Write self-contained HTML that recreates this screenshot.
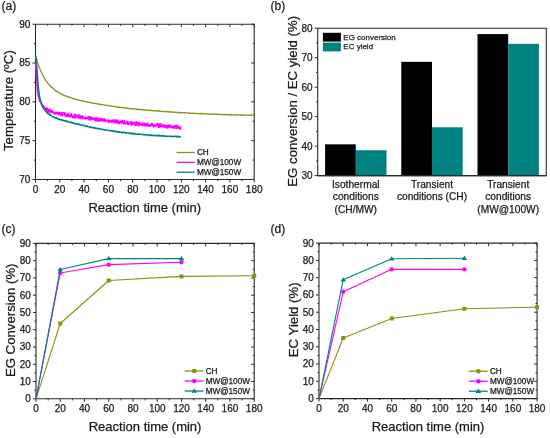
<!DOCTYPE html>
<html><head><meta charset="utf-8"><style>html,body{margin:0;padding:0;background:#fff;font-family:"Liberation Sans",sans-serif;}svg{display:block;will-change:transform;}text{stroke:#1a1a1a;stroke-width:0.25px;}</style></head>
<body><svg width="550" height="438" viewBox="0 0 550 438" font-family="&quot;Liberation Sans&quot;, sans-serif" stroke-linejoin="round">
<rect width="550" height="438" fill="#fff"/>
<rect x="35.5" y="24.2" width="218.7" height="155.3" fill="none" stroke="#2a2a2a" stroke-width="1.1"/>
<path d="M35.5 179.5v3M35.5 24.2v3M59.8 179.5v3M59.8 24.2v3M84.1 179.5v3M84.1 24.2v3M108.4 179.5v3M108.4 24.2v3M132.7 179.5v3M132.7 24.2v3M157 179.5v3M157 24.2v3M181.3 179.5v3M181.3 24.2v3M205.6 179.5v3M205.6 24.2v3M229.9 179.5v3M229.9 24.2v3M254.2 179.5v3M254.2 24.2v3M47.65 179.5v1.6M47.65 24.2v1.6M71.95 179.5v1.6M71.95 24.2v1.6M96.25 179.5v1.6M96.25 24.2v1.6M120.55 179.5v1.6M120.55 24.2v1.6M144.85 179.5v1.6M144.85 24.2v1.6M169.15 179.5v1.6M169.15 24.2v1.6M193.45 179.5v1.6M193.45 24.2v1.6M217.75 179.5v1.6M217.75 24.2v1.6M242.05 179.5v1.6M242.05 24.2v1.6M35.5 179.5h-3M254.2 179.5h-3M35.5 140.68h-3M254.2 140.68h-3M35.5 101.85h-3M254.2 101.85h-3M35.5 63.03h-3M254.2 63.03h-3M35.5 24.2h-3M254.2 24.2h-3M35.5 160.09h-1.6M254.2 160.09h-1.6M35.5 121.26h-1.6M254.2 121.26h-1.6M35.5 82.44h-1.6M254.2 82.44h-1.6M35.5 43.61h-1.6M254.2 43.61h-1.6" stroke="#2a2a2a" stroke-width="1" fill="none"/>
<text x="35.5" y="193" text-anchor="middle" font-size="10" fill="#1a1a1a">0</text>
<text x="59.8" y="193" text-anchor="middle" font-size="10" fill="#1a1a1a">20</text>
<text x="84.1" y="193" text-anchor="middle" font-size="10" fill="#1a1a1a">40</text>
<text x="108.4" y="193" text-anchor="middle" font-size="10" fill="#1a1a1a">60</text>
<text x="132.7" y="193" text-anchor="middle" font-size="10" fill="#1a1a1a">80</text>
<text x="157" y="193" text-anchor="middle" font-size="10" fill="#1a1a1a">100</text>
<text x="181.3" y="193" text-anchor="middle" font-size="10" fill="#1a1a1a">120</text>
<text x="205.6" y="193" text-anchor="middle" font-size="10" fill="#1a1a1a">140</text>
<text x="229.9" y="193" text-anchor="middle" font-size="10" fill="#1a1a1a">160</text>
<text x="254.2" y="193" text-anchor="middle" font-size="10" fill="#1a1a1a">180</text>
<text x="30.4" y="182.9" text-anchor="end" font-size="10" fill="#1a1a1a">70</text>
<text x="30.4" y="144.08" text-anchor="end" font-size="10" fill="#1a1a1a">75</text>
<text x="30.4" y="105.25" text-anchor="end" font-size="10" fill="#1a1a1a">80</text>
<text x="30.4" y="66.43" text-anchor="end" font-size="10" fill="#1a1a1a">85</text>
<text x="30.4" y="27.6" text-anchor="end" font-size="10" fill="#1a1a1a">90</text>
<text x="1.5" y="10.0" font-size="12" fill="#1a1a1a">(a)</text>
<text x="144.85" y="211.8" text-anchor="middle" font-size="13" fill="#1a1a1a">Reaction time (min)</text>
<text transform="translate(13.4 100.6) rotate(-90)" text-anchor="middle" font-size="13.2" fill="#1a1a1a">Temperature (<tspan font-size="8.5" dy="-4.6">o</tspan><tspan dy="4.6">C)</tspan></text>
<polyline points="35.5,55.82 35.89,57.04 36.28,58.36 36.67,59.39 37.06,60.9 37.45,62.12 37.84,63.35 38.23,64.41 38.62,65.61 39.01,66.61 39.41,67.51 39.8,68.84 40.19,69.8 40.58,70.85 40.97,71.5 41.36,72.3 41.75,73.12 42.14,73.77 42.53,74.94 42.92,75.38 43.31,76.1 43.7,76.95 44.09,77.89 44.48,78.36 44.87,78.81 45.26,79.48 45.65,80.28 46.04,80.74 46.43,81.21 46.83,81.84 47.22,82.51 47.61,83.21 48,83.22 48.39,83.79 48.78,84.23 49.17,84.44 49.56,85.1 49.95,85.51 50.34,86.24 50.73,86.46 51.12,86.62 51.51,87.34 51.9,87.55 52.29,87.7 52.68,88.22 53.07,88.56 53.46,88.84 53.85,89.29 54.24,89.26 54.64,89.86 55.03,90.35 55.42,90.61 55.81,90.92 56.2,91.2 56.59,91.52 56.98,91.38 57.37,91.93 57.76,91.77 58.15,92.19 58.54,92.23 58.93,92.9 59.32,93.17 59.71,93.16 60.1,93.66 60.49,93.5 60.88,93.83 61.27,94.03 61.66,94.04 62.06,94.46 62.45,94.87 62.84,94.6 63.23,95.07 63.62,95.09 64.01,95.55 64.4,95.52 64.79,95.72 65.18,95.87 65.57,95.97 65.96,95.88 66.35,96.45 66.74,96.19 67.13,96.58 67.52,96.78 67.91,96.71 68.3,96.99 68.69,97.29 69.08,97.24 69.48,97.25 69.87,97.07 70.26,97.49 70.65,97.68 71.04,97.82 71.43,97.87 71.82,98.2 72.21,98.17 72.6,98.36 72.99,98.6 73.38,98.48 73.77,98.68 74.16,99.16 74.55,99.08 74.94,98.86 75.33,99.15 75.72,99.36 76.11,99.56 76.5,99.51 76.89,99.51 77.29,99.58 77.68,99.89 78.07,99.94 78.46,99.91 78.85,100.06 79.24,100.12 79.63,100.39 80.02,100.27 80.41,100.54 80.8,100.69 81.19,100.73 81.58,100.62 81.97,101.04 82.36,100.82 82.75,101.08 83.14,100.99 83.53,100.93 83.92,101.31 84.31,101.4 84.71,101.43 85.1,101.57 85.49,101.51 85.88,101.58 86.27,101.75 86.66,102.14 87.05,102.06 87.44,101.94 87.83,102.18 88.22,102.11 88.61,102.19 89,102.46 89.39,102.33 89.78,102.24 90.17,102.43 90.56,102.65 90.95,102.73 91.34,102.98 91.73,102.76 92.13,103.05 92.52,103.07 92.91,103.06 93.3,103.28 93.69,103.3 94.08,103.17 94.47,103.53 94.86,103.26 95.25,103.52 95.64,103.58 96.03,103.71 96.42,103.61 96.81,103.78 97.2,103.83 97.59,104.07 97.98,103.87 98.37,104.06 98.76,104.08 99.15,103.99 99.55,104.65 99.94,104.31 100.33,104.16 100.72,104.66 101.11,104.35 101.5,104.63 101.89,104.77 102.28,104.6 102.67,104.7 103.06,104.74 103.45,104.87 103.84,104.7 104.23,104.82 104.62,105.05 105.01,105.29 105.4,105.29 105.79,105.51 106.18,105.41 106.57,105.29 106.96,105.41 107.36,105.18 107.75,105.4 108.14,105.45 108.53,105.7 108.92,105.82 109.31,105.69 109.7,105.75 110.09,105.66 110.48,105.93 110.87,106.04 111.26,106.13 111.65,106 112.04,106.47 112.43,106.4 112.82,106.26 113.21,106.25 113.6,106.34 113.99,106.46 114.38,106.49 114.78,106.62 115.17,106.72 115.56,106.86 115.95,106.88 116.34,106.74 116.73,106.87 117.12,106.8 117.51,106.83 117.9,107.25 118.29,106.95 118.68,107.37 119.07,107.06 119.46,107.21 119.85,107.38 120.24,107.27 120.63,107.38 121.02,107.33 121.41,107.34 121.8,107.44 122.2,107.41 122.59,107.8 122.98,107.58 123.37,107.91 123.76,107.3 124.15,107.75 124.54,107.88 124.93,107.8 125.32,108.06 125.71,108.03 126.1,107.94 126.49,108.1 126.88,108.5 127.27,108.16 127.66,108.21 128.05,108.15 128.44,108.28 128.83,108.11 129.22,108.32 129.62,108.76 130.01,108.59 130.4,108.57 130.79,108.69 131.18,108.85 131.57,108.7 131.96,108.96 132.35,108.85 132.74,108.76 133.13,109.04 133.52,108.47 133.91,108.78 134.3,108.94 134.69,108.81 135.08,108.96 135.47,108.93 135.86,108.97 136.25,109.52 136.64,109.24 137.03,109.18 137.43,109.43 137.82,109.23 138.21,109.44 138.6,109.4 138.99,109.63 139.38,109.22 139.77,109.58 140.16,109.52 140.55,109.37 140.94,109.74 141.33,109.49 141.72,109.9 142.11,109.77 142.5,109.84 142.89,109.78 143.28,109.95 143.67,109.57 144.06,109.89 144.45,109.83 144.85,110 145.24,109.99 145.63,110.12 146.02,109.94 146.41,110.38 146.8,110.48 147.19,110.14 147.58,110.21 147.97,110.29 148.36,110.47 148.75,110.6 149.14,110.17 149.53,110.29 149.92,110.26 150.31,110.28 150.7,110.24 151.09,110.57 151.48,110.38 151.87,110.81 152.27,110.75 152.66,110.5 153.05,110.53 153.44,110.63 153.83,110.96 154.22,110.65 154.61,110.59 155,110.84 155.39,110.93 155.78,110.81 156.17,111.18 156.56,111.01 156.95,111.07 157.34,110.91 157.73,111.06 158.12,111.07 158.51,110.79 158.9,111.2 159.29,110.92 159.68,111.22 160.08,111.03 160.47,111.58 160.86,111.36 161.25,111.47 161.64,111.51 162.03,111.2 162.42,111.09 162.81,111.41 163.2,111.62 163.59,111.53 163.98,111.66 164.37,111.71 164.76,111.38 165.15,111.67 165.54,111.95 165.93,111.6 166.32,111.41 166.71,111.7 167.1,111.7 167.5,111.86 167.89,111.69 168.28,111.86 168.67,111.54 169.06,112.03 169.45,112.17 169.84,112.15 170.23,111.75 170.62,112.06 171.01,111.59 171.4,112.1 171.79,112.08 172.18,111.96 172.57,112.19 172.96,112.18 173.35,112.33 173.74,112.23 174.13,112.27 174.52,111.97 174.92,112.11 175.31,112.24 175.7,112.38 176.09,112.36 176.48,112.61 176.87,112.28 177.26,112.4 177.65,112.5 178.04,112.45 178.43,112.58 178.82,112.44 179.21,112.77 179.6,112.53 179.99,112.77 180.38,112.62 180.77,112.87 181.16,112.46 181.55,112.77 181.94,112.65 182.34,112.77 182.73,112.94 183.12,112.61 183.51,112.6 183.9,112.67 184.29,112.88 184.68,112.58 185.07,112.9 185.46,112.72 185.85,112.76 186.24,112.9 186.63,113.03 187.02,112.9 187.41,112.94 187.8,113.03 188.19,113.02 188.58,112.68 188.97,113.04 189.36,113.13 189.75,113.31 190.15,113.47 190.54,113.28 190.93,113.21 191.32,113.08 191.71,113.25 192.1,113.38 192.49,113.47 192.88,113.17 193.27,113.35 193.66,113.46 194.05,113.64 194.44,113.41 194.83,113.31 195.22,113.31 195.61,113.38 196,113.35 196.39,113.59 196.78,113.65 197.17,113.62 197.57,113.7 197.96,113.47 198.35,113.62 198.74,113.52 199.13,113.6 199.52,113.8 199.91,113.63 200.3,113.37 200.69,113.63 201.08,113.58 201.47,113.47 201.86,113.6 202.25,113.88 202.64,114 203.03,113.7 203.42,113.94 203.81,113.98 204.2,113.65 204.59,113.83 204.99,113.85 205.38,113.89 205.77,113.65 206.16,113.85 206.55,114.08 206.94,114.12 207.33,114.22 207.72,113.91 208.11,114.26 208.5,114.1 208.89,113.81 209.28,114.14 209.67,113.99 210.06,114.13 210.45,114.06 210.84,114.27 211.23,114.14 211.62,114.07 212.01,114.28 212.41,114.18 212.8,114.1 213.19,114.37 213.58,114.13 213.97,114.11 214.36,114.14 214.75,114.01 215.14,114.16 215.53,114.54 215.92,114.14 216.31,114.29 216.7,114.14 217.09,114.22 217.48,114.56 217.87,114.48 218.26,114.27 218.65,114.37 219.04,114.26 219.43,114.28 219.82,114.27 220.22,114.29 220.61,114.49 221,114.54 221.39,114.54 221.78,114.45 222.17,114.28 222.56,114.49 222.95,114.37 223.34,114.66 223.73,114.62 224.12,114.66 224.51,114.51 224.9,114.3 225.29,114.73 225.68,114.78 226.07,114.39 226.46,114.64 226.85,114.81 227.24,114.48 227.64,114.92 228.03,114.62 228.42,114.52 228.81,114.9 229.2,114.75 229.59,114.62 229.98,114.86 230.37,114.44 230.76,115.02 231.15,114.64 231.54,114.81 231.93,114.72 232.32,114.86 232.71,114.94 233.1,114.69 233.49,114.94 233.88,114.79 234.27,114.74 234.66,114.82 235.06,114.71 235.45,114.76 235.84,115.03 236.23,114.87 236.62,115.08 237.01,114.98 237.4,114.77 237.79,114.65 238.18,114.84 238.57,115 238.96,114.97 239.35,114.85 239.74,115.14 240.13,114.73 240.52,114.81 240.91,115.03 241.3,115.35 241.69,115.09 242.08,114.89 242.47,115.14 242.87,115.16 243.26,115.21 243.65,115.02 244.04,114.97 244.43,115.11 244.82,115.17 245.21,115.35 245.6,115.43 245.99,115.02 246.38,115.06 246.77,115.14 247.16,115.12 247.55,115.24 247.94,115.24 248.33,115.22 248.72,115.39 249.11,115.17 249.5,115.05 249.89,114.98 250.29,115.07 250.68,115.07 251.07,114.95 251.46,115.34 251.85,115.28 252.24,115.2 252.63,115.13 253.02,115.04 253.41,115.14 253.8,115.57" fill="none" stroke="#8e8e12" stroke-width="1.25"/>
<polyline points="35.6,62 35.93,66.88 36.26,71.65 36.59,76.31 36.92,81.28 37.25,86.13 37.58,89.89 37.92,92.65 38.25,94.92 38.58,96.03 38.91,97.41 39.24,98.85 39.57,100.2 39.9,101.28 40.23,101.78 40.56,101.72 40.89,102.06 41.22,103.61 41.55,104.37 41.88,103.77 42.22,105.27 42.55,106.02 42.88,107.18 43.21,105.54 43.54,107.43 43.87,106.01 44.2,107.03 44.53,107.65 44.86,109.49 45.19,109.92 45.52,108.72 45.85,109.19 46.18,109.93 46.51,107.78 46.85,110.12 47.18,108.31 47.51,111.37 47.84,111.36 48.17,110.58 48.5,109.43 48.83,112.05 49.16,110.79 49.49,110.78 49.82,111.38 50.15,109.23 50.48,111.48 50.81,112.16 51.15,111.62 51.48,111.54 51.81,110.55 52.14,112.25 52.47,111.91 52.8,111.82 53.13,111.34 53.46,112.86 53.79,113.34 54.12,112.57 54.45,113.17 54.78,113.68 55.11,114.03 55.45,112.75 55.78,112.4 56.11,112.27 56.44,112.78 56.77,113.4 57.1,113.87 57.43,112.58 57.76,113.23 58.09,112.17 58.42,114.5 58.75,112.92 59.08,113.75 59.41,112.74 59.74,113.24 60.08,112.92 60.41,115.38 60.74,114.11 61.07,113.66 61.4,112.94 61.73,113.35 62.06,114.6 62.39,115.76 62.72,112.73 63.05,113.31 63.38,114.12 63.71,113.73 64.04,112.76 64.38,114.5 64.71,115.3 65.04,113.03 65.37,114.88 65.7,115.69 66.03,115.77 66.36,114.42 66.69,116.6 67.02,115.51 67.35,114.2 67.68,116.05 68.01,114 68.34,116.07 68.68,113.97 69.01,116.07 69.34,114.75 69.67,116.52 70,116.18 70.33,115.94 70.66,115.6 70.99,116.68 71.32,113.95 71.65,116.13 71.98,116.16 72.31,116.36 72.64,116.68 72.97,117.6 73.31,116.07 73.64,116.81 73.97,116.21 74.3,117.68 74.63,114.46 74.96,117.91 75.29,115.58 75.62,114.61 75.95,115.29 76.28,116.24 76.61,116.66 76.94,116.47 77.27,117.38 77.61,116.58 77.94,116.6 78.27,115.02 78.6,117.26 78.93,117.83 79.26,116.45 79.59,115.22 79.92,115.63 80.25,118.69 80.58,116.46 80.91,116.45 81.24,116.35 81.57,117.9 81.91,116.68 82.24,116.45 82.57,115.86 82.9,117.31 83.23,118.46 83.56,117.36 83.89,118.44 84.22,117.78 84.55,117.81 84.88,117.89 85.21,117.79 85.54,118.83 85.87,118.34 86.21,117.32 86.54,118.08 86.87,117.92 87.2,118.53 87.53,118.27 87.86,118.55 88.19,116.71 88.52,118.61 88.85,119.59 89.18,116.98 89.51,119.97 89.84,118.72 90.17,118.26 90.5,116.81 90.84,119.65 91.17,117.64 91.5,118.14 91.83,119.24 92.16,117.72 92.49,117.8 92.82,117.68 93.15,118.77 93.48,119.52 93.81,119.37 94.14,119.42 94.47,118.72 94.8,119.25 95.14,118.46 95.47,120.9 95.8,119.43 96.13,117.58 96.46,118.26 96.79,120.97 97.12,118.05 97.45,119.02 97.78,119.91 98.11,118.45 98.44,120.66 98.77,121.32 99.1,118.86 99.44,120.85 99.77,118.88 100.1,118.81 100.43,120.1 100.76,120.14 101.09,119.35 101.42,120.83 101.75,118.56 102.08,119.22 102.41,119.04 102.74,120.92 103.07,121.01 103.4,120.91 103.73,118.99 104.07,120.46 104.4,120.83 104.73,118.8 105.06,119.63 105.39,121.14 105.72,121.24 106.05,120.84 106.38,121.17 106.71,120.99 107.04,120.86 107.37,120.64 107.7,119.92 108.03,120.58 108.37,120.47 108.7,122.61 109.03,121.21 109.36,120.98 109.69,120.8 110.02,120.96 110.35,120.84 110.68,121.7 111.01,121.16 111.34,122.04 111.67,120.57 112,121.66 112.33,122.22 112.67,120.23 113,121.59 113.33,121.71 113.66,121.16 113.99,121.05 114.32,119.87 114.65,122.76 114.98,120.72 115.31,120.44 115.64,122.38 115.97,120.06 116.3,122.76 116.63,122.26 116.96,122.46 117.3,121.74 117.63,120.72 117.96,120.27 118.29,123.46 118.62,121.57 118.95,121.56 119.28,123.69 119.61,121.51 119.94,121.94 120.27,121.97 120.6,122.1 120.93,121.23 121.26,121.75 121.6,123.63 121.93,123.13 122.26,120.71 122.59,120.74 122.92,122.8 123.25,122.39 123.58,122.16 123.91,123.61 124.24,120.9 124.57,123.83 124.9,122.79 125.23,123.24 125.56,122.98 125.9,123.6 126.23,122.53 126.56,122.27 126.89,123.63 127.22,123.05 127.55,121.65 127.88,124.29 128.21,124.18 128.54,124.44 128.87,123.11 129.2,123.41 129.53,122.71 129.86,122.14 130.19,123.21 130.53,123.35 130.86,122.54 131.19,124.94 131.52,121.65 131.85,122.48 132.18,122.65 132.51,124.64 132.84,123.12 133.17,123.09 133.5,122.55 133.83,122.7 134.16,122.19 134.49,124.54 134.83,124.16 135.16,124.57 135.49,122.95 135.82,125.34 136.15,122.69 136.48,122 136.81,123.43 137.14,123.89 137.47,124.54 137.8,122.79 138.13,124.43 138.46,125.57 138.79,123.04 139.13,123.18 139.46,122.25 139.79,124.22 140.12,124.87 140.45,124.81 140.78,124.9 141.11,125.51 141.44,124.25 141.77,125.1 142.1,123.23 142.43,123.41 142.76,124.47 143.09,123.44 143.43,124.86 143.76,125.69 144.09,124.74 144.42,123.63 144.75,123.64 145.08,125.78 145.41,123.65 145.74,124.56 146.07,124.24 146.4,124.57 146.73,125.64 147.06,124.03 147.39,123.19 147.72,126.08 148.06,124.87 148.39,125.4 148.72,124.68 149.05,125.51 149.38,126.02 149.71,126.14 150.04,124.53 150.37,124.48 150.7,125.25 151.03,125.09 151.36,125.47 151.69,124.22 152.02,123.26 152.36,125.43 152.69,125.79 153.02,125.68 153.35,126.72 153.68,125.94 154.01,124.72 154.34,126.12 154.67,125.08 155,126.45 155.33,125.45 155.66,125.7 155.99,125.5 156.32,125.35 156.66,123.83 156.99,125.41 157.32,123.68 157.65,125.9 157.98,126.42 158.31,127.16 158.64,125.86 158.97,124.8 159.3,123.95 159.63,127.27 159.96,124.17 160.29,126.52 160.62,123.95 160.95,125.63 161.29,126.39 161.62,126.06 161.95,125.73 162.28,124.97 162.61,124.92 162.94,126.86 163.27,126.32 163.6,125.75 163.93,126.15 164.26,125.04 164.59,127.02 164.92,127.29 165.25,125.28 165.59,126.19 165.92,127.16 166.25,125.5 166.58,127.87 166.91,127.71 167.24,125.95 167.57,127.24 167.9,127.95 168.23,125.08 168.56,126.97 168.89,126.24 169.22,126.2 169.55,127.15 169.89,126 170.22,125.1 170.55,125.11 170.88,126.54 171.21,127.22 171.54,126.6 171.87,126.5 172.2,126.65 172.53,128 172.86,127.28 173.19,126.03 173.52,126.52 173.85,128.04 174.18,126.29 174.52,126.51 174.85,126.91 175.18,125.9 175.51,127.9 175.84,125.32 176.17,128.51 176.5,126.65 176.83,125.86 177.16,127.43 177.49,125.48 177.82,127.75 178.15,128.02 178.48,126.7 178.82,126.92 179.15,128.29 179.48,126.7 179.81,127.43 180.14,127.78 180.47,129.03 180.8,127" fill="none" stroke="#ff00ff" stroke-width="1.7"/>
<polyline points="35.6,55.01 35.93,57.81 36.26,60.12 36.59,64.02 36.92,67.45 37.25,71.46 37.58,77.06 37.92,82.27 38.25,86.75 38.58,89.45 38.91,92.28 39.24,94.4 39.57,96.34 39.9,98.06 40.23,99.45 40.56,100.97 40.89,101.78 41.22,102.96 41.55,103.82 41.88,104.8 42.22,105.34 42.55,106.58 42.88,106.95 43.21,107.69 43.54,108.2 43.87,108.95 44.2,109.35 44.53,109.71 44.86,110.18 45.19,110.64 45.52,111.12 45.85,111.45 46.18,111.97 46.51,112.38 46.85,112.52 47.18,112.44 47.51,113.36 47.84,113.73 48.17,113.5 48.5,113.76 48.83,113.69 49.16,114.5 49.49,114.38 49.82,115.18 50.15,114.54 50.48,115.27 50.81,115.6 51.15,115.59 51.48,115.7 51.81,116.1 52.14,116.14 52.47,116.35 52.8,116.59 53.13,116.65 53.46,116.89 53.79,117.25 54.12,117.17 54.45,117.43 54.78,117.4 55.11,117.87 55.45,117.57 55.78,118.16 56.11,117.5 56.44,118.05 56.77,118.04 57.1,118.69 57.43,118.66 57.76,118.47 58.09,118.74 58.42,119.24 58.75,119.07 59.08,119.3 59.41,119 59.74,119.11 60.08,119.63 60.41,120.08 60.74,119.61 61.07,119.94 61.4,119.73 61.73,120.27 62.06,120.02 62.39,120.12 62.72,119.93 63.05,120.31 63.38,120.52 63.71,120.85 64.04,120.43 64.38,120.95 64.71,120.77 65.04,120.87 65.37,120.83 65.7,120.76 66.03,120.94 66.36,121.6 66.69,121.12 67.02,121.35 67.35,121.75 67.68,121.19 68.01,121.78 68.34,121.68 68.68,121.9 69.01,122.12 69.34,122 69.67,122.08 70,122.35 70.33,122.42 70.66,122.24 70.99,122.43 71.32,122.28 71.65,122.9 71.98,122.48 72.31,122.85 72.64,123.25 72.97,123.14 73.31,123.01 73.64,123.01 73.97,123.11 74.3,123.51 74.63,123.48 74.96,123.49 75.29,124.1 75.62,123.5 75.95,123.65 76.28,123.75 76.61,123.96 76.94,124.06 77.27,124.02 77.61,124.31 77.94,124.35 78.27,124.26 78.6,123.91 78.93,124.64 79.26,124.38 79.59,124.52 79.92,124.7 80.25,124.56 80.58,124.72 80.91,124.97 81.24,124.97 81.57,125.18 81.91,125.02 82.24,125.23 82.57,125.14 82.9,125.37 83.23,125.56 83.56,125.53 83.89,125.37 84.22,125.69 84.55,125.84 84.88,126.11 85.21,125.95 85.54,125.95 85.87,125.87 86.21,126.58 86.54,126.06 86.87,126.1 87.2,126.37 87.53,126.11 87.86,126.76 88.19,126.65 88.52,126.78 88.85,126.56 89.18,126.72 89.51,127.07 89.84,127.15 90.17,127.6 90.5,127.32 90.84,126.79 91.17,127.26 91.5,127.23 91.83,127.59 92.16,127.42 92.49,127.61 92.82,127.51 93.15,127.76 93.48,128 93.81,127.65 94.14,127.43 94.47,127.7 94.8,128.28 95.14,128.08 95.47,128.04 95.8,127.97 96.13,128.44 96.46,128.35 96.79,128.33 97.12,128.31 97.45,128.45 97.78,128.48 98.11,128.72 98.44,128.93 98.77,128.34 99.1,128.5 99.44,128.84 99.77,128.93 100.1,128.67 100.43,128.91 100.76,129.02 101.09,129.07 101.42,129.12 101.75,129.26 102.08,129.51 102.41,129.54 102.74,129.57 103.07,129.57 103.4,129.42 103.73,129.53 104.07,129.82 104.4,129.76 104.73,129.96 105.06,129.91 105.39,129.92 105.72,130.05 106.05,129.71 106.38,130.04 106.71,130.01 107.04,130.35 107.37,130.1 107.7,130.34 108.03,130.26 108.37,130.49 108.7,130.59 109.03,130.46 109.36,130.57 109.69,130.64 110.02,130.81 110.35,130.64 110.68,130.76 111.01,130.72 111.34,130.66 111.67,130.94 112,131.04 112.33,130.84 112.67,131.37 113,130.96 113.33,131.3 113.66,131.28 113.99,130.91 114.32,131.3 114.65,131.03 114.98,131.38 115.31,131.58 115.64,131.86 115.97,131.7 116.3,131.28 116.63,131.56 116.96,131.98 117.3,131.76 117.63,132.13 117.96,131.68 118.29,131.75 118.62,131.64 118.95,131.88 119.28,132.25 119.61,131.86 119.94,132.26 120.27,132.23 120.6,132.34 120.93,132.17 121.26,132.27 121.6,132.74 121.93,132.11 122.26,132.55 122.59,132.75 122.92,132.58 123.25,132.86 123.58,131.97 123.91,132.55 124.24,132.42 124.57,132.61 124.9,132.71 125.23,132.87 125.56,132.64 125.9,133.03 126.23,132.58 126.56,133.12 126.89,132.92 127.22,132.65 127.55,132.69 127.88,132.73 128.21,132.92 128.54,133.18 128.87,133.46 129.2,133.39 129.53,133 129.86,132.85 130.19,133.28 130.53,133.09 130.86,133.38 131.19,133.31 131.52,134 131.85,133.18 132.18,133.62 132.51,133.96 132.84,133.54 133.17,133.5 133.5,134.03 133.83,133.3 134.16,133.42 134.49,133.55 134.83,133.91 135.16,134.02 135.49,133.87 135.82,134.37 136.15,133.93 136.48,134 136.81,133.97 137.14,134.31 137.47,134.1 137.8,134.05 138.13,134.51 138.46,134.46 138.79,134.44 139.13,134.01 139.46,134.08 139.79,134.28 140.12,134.31 140.45,134.31 140.78,134.38 141.11,134.59 141.44,134.28 141.77,134.57 142.1,134.47 142.43,134.48 142.76,134.55 143.09,134.79 143.43,134.72 143.76,134.54 144.09,134.79 144.42,134.78 144.75,134.87 145.08,134.76 145.41,135.04 145.74,134.94 146.07,134.66 146.4,134.66 146.73,134.67 147.06,135.06 147.39,134.86 147.72,134.96 148.06,135.04 148.39,135.33 148.72,135.54 149.05,135.11 149.38,135.56 149.71,135.29 150.04,135.45 150.37,135.17 150.7,135 151.03,135.37 151.36,135.56 151.69,135.01 152.02,135.33 152.36,135.41 152.69,135.51 153.02,135.19 153.35,135.32 153.68,135.64 154.01,135.84 154.34,135.52 154.67,135.72 155,135.58 155.33,135.65 155.66,135.51 155.99,135.56 156.32,135.51 156.66,135.67 156.99,135.89 157.32,135.73 157.65,135.84 157.98,135.6 158.31,135.9 158.64,135.14 158.97,135.51 159.3,135.74 159.63,135.47 159.96,135.96 160.29,135.91 160.62,135.71 160.95,135.93 161.29,135.62 161.62,135.76 161.95,135.89 162.28,135.66 162.61,136.21 162.94,135.89 163.27,136.24 163.6,136.02 163.93,136.13 164.26,135.91 164.59,136.04 164.92,136.04 165.25,136.19 165.59,136.43 165.92,136.06 166.25,136.16 166.58,136.28 166.91,136.39 167.24,136.21 167.57,136.18 167.9,136.15 168.23,136.28 168.56,136.35 168.89,136.18 169.22,136.27 169.55,136.49 169.89,136.35 170.22,136.26 170.55,136.53 170.88,136.54 171.21,136.53 171.54,136.56 171.87,136.36 172.2,136.49 172.53,136.53 172.86,136.5 173.19,136.14 173.52,136.5 173.85,136.58 174.18,136.63 174.52,136.48 174.85,136.56 175.18,136.2 175.51,136.27 175.84,135.99 176.17,136.55 176.5,136.93 176.83,136.97 177.16,136.4 177.49,136.77 177.82,136.9 178.15,136.6 178.48,136.28 178.82,136.96 179.15,136.62 179.48,136.62 179.81,137.05 180.14,136.81 180.47,136.9 180.8,137.06" fill="none" stroke="#008282" stroke-width="1.5"/>
<line x1="176.5" y1="152.5" x2="194.7" y2="152.5" stroke="#8e8e12" stroke-width="1.3"/>
<text x="196.9" y="155.1" font-size="8.2" fill="#1a1a1a">CH</text>
<line x1="176.5" y1="162.35" x2="194.7" y2="162.35" stroke="#ff00ff" stroke-width="1.3"/>
<text x="196.9" y="164.95" font-size="8.2" fill="#1a1a1a">MW@100W</text>
<line x1="176.5" y1="172.2" x2="194.7" y2="172.2" stroke="#008282" stroke-width="1.3"/>
<text x="196.9" y="174.8" font-size="8.2" fill="#1a1a1a">MW@150W</text>
<rect x="317.7" y="28.2" width="228.6" height="147.4" fill="none" stroke="#2a2a2a" stroke-width="1.1"/>
<path d="M317.7 175.6h-3M317.7 146.12h-3M317.7 116.64h-3M317.7 87.16h-3M317.7 57.68h-3M317.7 28.2h-3M317.7 160.86h-1.6M317.7 131.38h-1.6M317.7 101.9h-1.6M317.7 72.42h-1.6M317.7 42.94h-1.6" stroke="#2a2a2a" stroke-width="1" fill="none"/>
<text x="312.6" y="179" text-anchor="end" font-size="10" fill="#1a1a1a">30</text>
<text x="312.6" y="149.52" text-anchor="end" font-size="10" fill="#1a1a1a">40</text>
<text x="312.6" y="120.04" text-anchor="end" font-size="10" fill="#1a1a1a">50</text>
<text x="312.6" y="90.56" text-anchor="end" font-size="10" fill="#1a1a1a">60</text>
<text x="312.6" y="61.08" text-anchor="end" font-size="10" fill="#1a1a1a">70</text>
<text x="312.6" y="31.6" text-anchor="end" font-size="10" fill="#1a1a1a">80</text>
<rect x="325.1" y="144.35" width="30.7" height="31.25" fill="#000"/>
<rect x="355.8" y="150.25" width="30.7" height="25.35" fill="#008282"/>
<rect x="401.3" y="61.81" width="30.7" height="113.79" fill="#000"/>
<rect x="432" y="127.25" width="30.7" height="48.35" fill="#008282"/>
<rect x="477.5" y="34.1" width="30.7" height="141.5" fill="#000"/>
<rect x="508.2" y="43.82" width="30.7" height="131.78" fill="#008282"/>
<line x1="317.7" y1="175.6" x2="546.3" y2="175.6" stroke="#2a2a2a" stroke-width="1.1"/>
<text x="355.8" y="187.7" text-anchor="middle" font-size="10.2" fill="#1a1a1a">Isothermal</text>
<text x="355.8" y="200.3" text-anchor="middle" font-size="10.2" fill="#1a1a1a">conditions</text>
<text x="355.8" y="212.9" text-anchor="middle" font-size="10.2" fill="#1a1a1a">(CH/MW)</text>
<text x="432" y="187.7" text-anchor="middle" font-size="10.2" fill="#1a1a1a">Transient</text>
<text x="432" y="200.3" text-anchor="middle" font-size="10.2" fill="#1a1a1a">conditions (CH)</text>
<text x="508.2" y="187.7" text-anchor="middle" font-size="10.2" fill="#1a1a1a">Transient</text>
<text x="508.2" y="200.3" text-anchor="middle" font-size="10.2" fill="#1a1a1a">conditions</text>
<text x="508.2" y="212.9" text-anchor="middle" font-size="10.2" fill="#1a1a1a">(MW@100W)</text>
<rect x="322.9" y="32.8" width="18" height="8.8" fill="#000"/>
<rect x="322.9" y="42.6" width="18" height="8.8" fill="#008282"/>
<text x="343.3" y="39.7" font-size="8" fill="#1a1a1a">EG conversion</text>
<text x="343.3" y="49.4" font-size="8" fill="#1a1a1a">EC yield</text>
<text x="270.5" y="10.0" font-size="12" fill="#1a1a1a">(b)</text>
<text transform="translate(296.6 101.3) rotate(-90)" text-anchor="middle" font-size="13.2" fill="#1a1a1a">EG conversion / EC yield (%)</text>
<rect x="36" y="243.4" width="218.2" height="155.4" fill="none" stroke="#2a2a2a" stroke-width="1.1"/>
<path d="M36 398.8v3M36 243.4v3M60.24 398.8v3M60.24 243.4v3M84.49 398.8v3M84.49 243.4v3M108.73 398.8v3M108.73 243.4v3M132.98 398.8v3M132.98 243.4v3M157.22 398.8v3M157.22 243.4v3M181.47 398.8v3M181.47 243.4v3M205.71 398.8v3M205.71 243.4v3M229.96 398.8v3M229.96 243.4v3M254.2 398.8v3M254.2 243.4v3M48.12 398.8v1.6M48.12 243.4v1.6M72.37 398.8v1.6M72.37 243.4v1.6M96.61 398.8v1.6M96.61 243.4v1.6M120.86 398.8v1.6M120.86 243.4v1.6M145.1 398.8v1.6M145.1 243.4v1.6M169.34 398.8v1.6M169.34 243.4v1.6M193.59 398.8v1.6M193.59 243.4v1.6M217.83 398.8v1.6M217.83 243.4v1.6M242.08 398.8v1.6M242.08 243.4v1.6M36 398.8h-3M254.2 398.8h-3M36 381.53h-3M254.2 381.53h-3M36 364.27h-3M254.2 364.27h-3M36 347h-3M254.2 347h-3M36 329.73h-3M254.2 329.73h-3M36 312.47h-3M254.2 312.47h-3M36 295.2h-3M254.2 295.2h-3M36 277.93h-3M254.2 277.93h-3M36 260.67h-3M254.2 260.67h-3M36 243.4h-3M254.2 243.4h-3M36 390.17h-1.6M254.2 390.17h-1.6M36 372.9h-1.6M254.2 372.9h-1.6M36 355.63h-1.6M254.2 355.63h-1.6M36 338.37h-1.6M254.2 338.37h-1.6M36 321.1h-1.6M254.2 321.1h-1.6M36 303.83h-1.6M254.2 303.83h-1.6M36 286.57h-1.6M254.2 286.57h-1.6M36 269.3h-1.6M254.2 269.3h-1.6M36 252.03h-1.6M254.2 252.03h-1.6" stroke="#2a2a2a" stroke-width="1" fill="none"/>
<text x="36" y="412.3" text-anchor="middle" font-size="10" fill="#1a1a1a">0</text>
<text x="60.24" y="412.3" text-anchor="middle" font-size="10" fill="#1a1a1a">20</text>
<text x="84.49" y="412.3" text-anchor="middle" font-size="10" fill="#1a1a1a">40</text>
<text x="108.73" y="412.3" text-anchor="middle" font-size="10" fill="#1a1a1a">60</text>
<text x="132.98" y="412.3" text-anchor="middle" font-size="10" fill="#1a1a1a">80</text>
<text x="157.22" y="412.3" text-anchor="middle" font-size="10" fill="#1a1a1a">100</text>
<text x="181.47" y="412.3" text-anchor="middle" font-size="10" fill="#1a1a1a">120</text>
<text x="205.71" y="412.3" text-anchor="middle" font-size="10" fill="#1a1a1a">140</text>
<text x="229.96" y="412.3" text-anchor="middle" font-size="10" fill="#1a1a1a">160</text>
<text x="254.2" y="412.3" text-anchor="middle" font-size="10" fill="#1a1a1a">180</text>
<text x="30.9" y="402.2" text-anchor="end" font-size="10" fill="#1a1a1a">0</text>
<text x="30.9" y="384.93" text-anchor="end" font-size="10" fill="#1a1a1a">10</text>
<text x="30.9" y="367.67" text-anchor="end" font-size="10" fill="#1a1a1a">20</text>
<text x="30.9" y="350.4" text-anchor="end" font-size="10" fill="#1a1a1a">30</text>
<text x="30.9" y="333.13" text-anchor="end" font-size="10" fill="#1a1a1a">40</text>
<text x="30.9" y="315.87" text-anchor="end" font-size="10" fill="#1a1a1a">50</text>
<text x="30.9" y="298.6" text-anchor="end" font-size="10" fill="#1a1a1a">60</text>
<text x="30.9" y="281.33" text-anchor="end" font-size="10" fill="#1a1a1a">70</text>
<text x="30.9" y="264.07" text-anchor="end" font-size="10" fill="#1a1a1a">80</text>
<text x="30.9" y="246.8" text-anchor="end" font-size="10" fill="#1a1a1a">90</text>
<text x="1.5" y="233" font-size="12" fill="#1a1a1a">(c)</text>
<text x="145.1" y="430.7" text-anchor="middle" font-size="13" fill="#1a1a1a">Reaction time (min)</text>
<text transform="translate(14.6 320.3) rotate(-90)" text-anchor="middle" font-size="13.2" fill="#1a1a1a">EG Conversion (%)</text>
<polyline points="36,398.8 60.24,323.52 108.73,280.52 181.47,276.38 254.2,275.69" fill="none" stroke="#8e8e12" stroke-width="1.1"/>
<rect x="58.24" y="321.52" width="4" height="4" fill="#8e8e12"/>
<rect x="106.73" y="278.52" width="4" height="4" fill="#8e8e12"/>
<rect x="179.47" y="274.38" width="4" height="4" fill="#8e8e12"/>
<rect x="252.2" y="273.69" width="4" height="4" fill="#8e8e12"/>
<polyline points="36,398.8 60.24,272.93 108.73,264.64 181.47,262.22" fill="none" stroke="#ff00ff" stroke-width="1.1"/>
<circle cx="60.24" cy="272.93" r="2.2" fill="#ff00ff"/>
<circle cx="108.73" cy="264.64" r="2.2" fill="#ff00ff"/>
<circle cx="181.47" cy="262.22" r="2.2" fill="#ff00ff"/>
<polyline points="36,398.8 60.24,269.47 108.73,258.59 181.47,258.59" fill="none" stroke="#008282" stroke-width="1.1"/>
<path d="M60.24 266.87L63.04 271.17L57.44 271.17Z" fill="#008282"/>
<path d="M108.73 255.99L111.53 260.29L105.93 260.29Z" fill="#008282"/>
<path d="M181.47 255.99L184.27 260.29L178.67 260.29Z" fill="#008282"/>
<line x1="184.7" y1="371" x2="203.5" y2="371" stroke="#8e8e12" stroke-width="1.3"/>
<rect x="192.2" y="369" width="4" height="4" fill="#8e8e12"/>
<text x="205.7" y="374" font-size="8.2" fill="#1a1a1a">CH</text>
<line x1="184.7" y1="381" x2="203.5" y2="381" stroke="#ff00ff" stroke-width="1.3"/>
<circle cx="194.2" cy="381" r="2.2" fill="#ff00ff"/>
<text x="205.7" y="384" font-size="8.2" fill="#1a1a1a">MW@100W</text>
<line x1="184.7" y1="391" x2="203.5" y2="391" stroke="#008282" stroke-width="1.3"/>
<path d="M194.2 388.4L197 392.7L191.4 392.7Z" fill="#008282"/>
<text x="205.7" y="394" font-size="8.2" fill="#1a1a1a">MW@150W</text>
<rect x="319" y="243.1" width="218.1" height="155.5" fill="none" stroke="#2a2a2a" stroke-width="1.1"/>
<path d="M319 398.6v3M319 243.1v3M343.23 398.6v3M343.23 243.1v3M367.47 398.6v3M367.47 243.1v3M391.7 398.6v3M391.7 243.1v3M415.93 398.6v3M415.93 243.1v3M440.17 398.6v3M440.17 243.1v3M464.4 398.6v3M464.4 243.1v3M488.63 398.6v3M488.63 243.1v3M512.87 398.6v3M512.87 243.1v3M537.1 398.6v3M537.1 243.1v3M331.12 398.6v1.6M331.12 243.1v1.6M355.35 398.6v1.6M355.35 243.1v1.6M379.58 398.6v1.6M379.58 243.1v1.6M403.82 398.6v1.6M403.82 243.1v1.6M428.05 398.6v1.6M428.05 243.1v1.6M452.28 398.6v1.6M452.28 243.1v1.6M476.52 398.6v1.6M476.52 243.1v1.6M500.75 398.6v1.6M500.75 243.1v1.6M524.98 398.6v1.6M524.98 243.1v1.6M319 398.6h-3M537.1 398.6h-3M319 381.32h-3M537.1 381.32h-3M319 364.04h-3M537.1 364.04h-3M319 346.77h-3M537.1 346.77h-3M319 329.49h-3M537.1 329.49h-3M319 312.21h-3M537.1 312.21h-3M319 294.93h-3M537.1 294.93h-3M319 277.66h-3M537.1 277.66h-3M319 260.38h-3M537.1 260.38h-3M319 243.1h-3M537.1 243.1h-3M319 389.96h-1.6M537.1 389.96h-1.6M319 372.68h-1.6M537.1 372.68h-1.6M319 355.41h-1.6M537.1 355.41h-1.6M319 338.13h-1.6M537.1 338.13h-1.6M319 320.85h-1.6M537.1 320.85h-1.6M319 303.57h-1.6M537.1 303.57h-1.6M319 286.29h-1.6M537.1 286.29h-1.6M319 269.02h-1.6M537.1 269.02h-1.6M319 251.74h-1.6M537.1 251.74h-1.6" stroke="#2a2a2a" stroke-width="1" fill="none"/>
<text x="319" y="412.1" text-anchor="middle" font-size="10" fill="#1a1a1a">0</text>
<text x="343.23" y="412.1" text-anchor="middle" font-size="10" fill="#1a1a1a">20</text>
<text x="367.47" y="412.1" text-anchor="middle" font-size="10" fill="#1a1a1a">40</text>
<text x="391.7" y="412.1" text-anchor="middle" font-size="10" fill="#1a1a1a">60</text>
<text x="415.93" y="412.1" text-anchor="middle" font-size="10" fill="#1a1a1a">80</text>
<text x="440.17" y="412.1" text-anchor="middle" font-size="10" fill="#1a1a1a">100</text>
<text x="464.4" y="412.1" text-anchor="middle" font-size="10" fill="#1a1a1a">120</text>
<text x="488.63" y="412.1" text-anchor="middle" font-size="10" fill="#1a1a1a">140</text>
<text x="512.87" y="412.1" text-anchor="middle" font-size="10" fill="#1a1a1a">160</text>
<text x="537.1" y="412.1" text-anchor="middle" font-size="10" fill="#1a1a1a">180</text>
<text x="313.9" y="402" text-anchor="end" font-size="10" fill="#1a1a1a">0</text>
<text x="313.9" y="384.72" text-anchor="end" font-size="10" fill="#1a1a1a">10</text>
<text x="313.9" y="367.44" text-anchor="end" font-size="10" fill="#1a1a1a">20</text>
<text x="313.9" y="350.17" text-anchor="end" font-size="10" fill="#1a1a1a">30</text>
<text x="313.9" y="332.89" text-anchor="end" font-size="10" fill="#1a1a1a">40</text>
<text x="313.9" y="315.61" text-anchor="end" font-size="10" fill="#1a1a1a">50</text>
<text x="313.9" y="298.33" text-anchor="end" font-size="10" fill="#1a1a1a">60</text>
<text x="313.9" y="281.06" text-anchor="end" font-size="10" fill="#1a1a1a">70</text>
<text x="313.9" y="263.78" text-anchor="end" font-size="10" fill="#1a1a1a">80</text>
<text x="313.9" y="246.5" text-anchor="end" font-size="10" fill="#1a1a1a">90</text>
<text x="270.5" y="233" font-size="12" fill="#1a1a1a">(d)</text>
<text x="428.05" y="430.7" text-anchor="middle" font-size="13" fill="#1a1a1a">Reaction time (min)</text>
<text transform="translate(297.6 319.8) rotate(-90)" text-anchor="middle" font-size="13.2" fill="#1a1a1a">EC Yield (%)</text>
<polyline points="319,398.6 343.23,337.96 391.7,318.43 464.4,308.76 537.1,307.2" fill="none" stroke="#8e8e12" stroke-width="1.1"/>
<rect x="341.23" y="335.96" width="4" height="4" fill="#8e8e12"/>
<rect x="389.7" y="316.43" width="4" height="4" fill="#8e8e12"/>
<rect x="462.4" y="306.76" width="4" height="4" fill="#8e8e12"/>
<rect x="535.1" y="305.2" width="4" height="4" fill="#8e8e12"/>
<polyline points="319,398.6 343.23,291.82 391.7,269.36 464.4,269.36" fill="none" stroke="#ff00ff" stroke-width="1.1"/>
<circle cx="343.23" cy="291.82" r="2.2" fill="#ff00ff"/>
<circle cx="391.7" cy="269.36" r="2.2" fill="#ff00ff"/>
<circle cx="464.4" cy="269.36" r="2.2" fill="#ff00ff"/>
<polyline points="319,398.6 343.23,279.73 391.7,258.82 464.4,258.3" fill="none" stroke="#008282" stroke-width="1.1"/>
<path d="M343.23 277.13L346.03 281.43L340.43 281.43Z" fill="#008282"/>
<path d="M391.7 256.22L394.5 260.52L388.9 260.52Z" fill="#008282"/>
<path d="M464.4 255.7L467.2 260L461.6 260Z" fill="#008282"/>
<line x1="468.9" y1="371.2" x2="487.7" y2="371.2" stroke="#8e8e12" stroke-width="1.3"/>
<rect x="476.4" y="369.2" width="4" height="4" fill="#8e8e12"/>
<text x="489.9" y="374.2" font-size="8.2" fill="#1a1a1a">CH</text>
<line x1="468.9" y1="381.2" x2="487.7" y2="381.2" stroke="#ff00ff" stroke-width="1.3"/>
<circle cx="478.4" cy="381.2" r="2.2" fill="#ff00ff"/>
<text x="489.9" y="384.2" font-size="8.2" fill="#1a1a1a">MW@100W</text>
<line x1="468.9" y1="391.2" x2="487.7" y2="391.2" stroke="#008282" stroke-width="1.3"/>
<path d="M478.4 388.6L481.2 392.9L475.6 392.9Z" fill="#008282"/>
<text x="489.9" y="394.2" font-size="8.2" fill="#1a1a1a">MW@150W</text>
</svg></body></html>
